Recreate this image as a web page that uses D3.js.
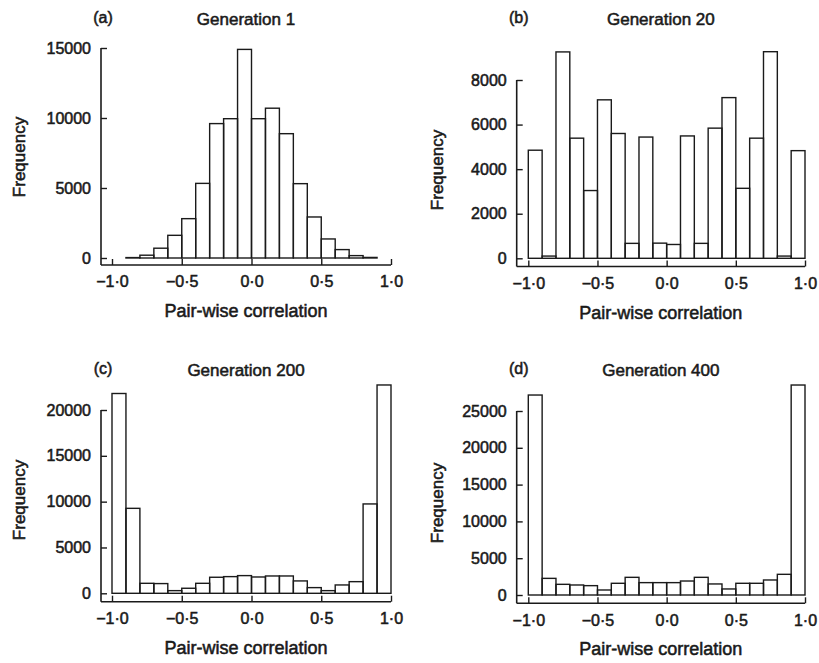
<!DOCTYPE html>
<html>
<head>
<meta charset="utf-8">
<script src="https://cdnjs.cloudflare.com/ajax/libs/d3/7.8.5/d3.min.js"></script>
<style>
  body { margin: 0; background: #fff; }
  svg text { font-family: "Liberation Sans", Arial, sans-serif; fill: #1a1a1a; stroke: #1a1a1a; stroke-width: 0.55px; }
</style>
</head>
<body>
<svg id="chart"></svg>
<script>
'use strict';

// bin edges (pair-wise correlation)
var edgesGen1 = [-0.9, -0.8, -0.7, -0.6, -0.5, -0.4, -0.3, -0.2, -0.1, 0.0, 0.1, 0.2, 0.3, 0.4, 0.5, 0.6, 0.7, 0.8, 0.9];
var edgesFull = [-1.0, -0.9, -0.8, -0.7, -0.6, -0.5, -0.4, -0.3, -0.2, -0.1, 0.0, 0.1, 0.2, 0.3, 0.4, 0.5, 0.6, 0.7, 0.8, 0.9, 1.0];

// frequencies
var countsGen1 = [30, 200, 700, 1620, 2810, 5330, 9600, 9950, 14900, 9950, 10700, 8880, 5310, 2930, 1360, 600, 170, 40];
var countsGen20 = [4850, 100, 9260, 5390, 3040, 7110, 5600, 670, 5440, 680, 620, 5490, 670, 5840, 7210, 3140, 5390, 9270, 100, 4830];
var countsGen200 = [21800, 9270, 1090, 1060, 290, 550, 1090, 1750, 1820, 1930, 1780, 1890, 1890, 1350, 620, 290, 910, 1270, 9750, 22730];
var countsGen400 = [27170, 2260, 1450, 1360, 1270, 680, 1590, 2400, 1680, 1680, 1680, 1900, 2400, 1500, 820, 1590, 1590, 2040, 2810, 28530];

// tick values and labels
var xTicks = [-1, -0.5, 0, 0.5, 1];
var xTickLabels = ['\u22121\u00b70', '\u22120\u00b75', '0\u00b70', '0\u00b75', '1\u00b70'];
var yTicksGen1 = [0, 5000, 10000, 15000];
var yTicksGen20 = [0, 2000, 4000, 6000, 8000];
var yTicksGen200 = [0, 5000, 10000, 15000, 20000];
var yTicksGen400 = [0, 5000, 10000, 15000, 20000, 25000];

var panelLetters = ['(a)', '(b)', '(c)', '(d)'];
var panelTitles = ['Generation 1', 'Generation 20', 'Generation 200', 'Generation 400'];

var svg = d3.select('#chart')
  .attr('width', 819)
  .attr('height', 663);

// layout of each panel (pixels)
var panels = [
  { edges: edgesGen1, counts: countsGen1, yTicks: yTicksGen1,
    axisX: 101, x0: 112, x1: 391, base: 258, top: 48, axisY: 265, freqX: 25, freqY: 157, titleY: 25 },
  { edges: edgesFull, counts: countsGen20, yTicks: yTicksGen20,
    axisX: 516.7, x0: 528.3, x1: 805, base: 258.3, top: 80, axisY: 266.5, freqX: 443, freqY: 170, titleY: 25 },
  { edges: edgesFull, counts: countsGen200, yTicks: yTicksGen200,
    axisX: 101, x0: 112, x1: 391, base: 593.3, top: 410, axisY: 601.7, freqX: 25, freqY: 500, titleY: 376 },
  { edges: edgesFull, counts: countsGen400, yTicks: yTicksGen400,
    axisX: 516.7, x0: 528.3, x1: 805, base: 595, top: 411, axisY: 603.3, freqX: 443, freqY: 503, titleY: 376 }
];

var ink = '#1a1a1a';

panels.forEach(function(p, i) {
  var g = svg.append('g');

  var xScale = d3.scaleLinear().domain([-1, 1]).range([p.x0, p.x1]);
  var yMax = p.yTicks[p.yTicks.length - 1];
  var yScale = d3.scaleLinear().domain([0, yMax]).range([p.base, p.top]);

  // bins as [lo, hi, count]
  var bins = p.counts.map(function(c, k) {
    return { lo: p.edges[k], hi: p.edges[k + 1], n: c };
  });

  g.selectAll('rect')
    .data(bins)
    .enter()
    .append('rect')
    .attr('x', d => xScale(d.lo))
    .attr('width', d => xScale(d.hi) - xScale(d.lo))
    .attr('y', d => yScale(d.n))
    .attr('height', d => yScale(0) - yScale(d.n))
    .attr('fill', 'none')
    .attr('stroke', ink)
    .attr('stroke-width', 1.4);

  // x axis (ticks point inward, line starts at the y axis)
  var xAxis = g.append('g')
    .attr('transform', 'translate(0,' + p.axisY + ')')
    .call(d3.axisBottom(xScale)
      .tickValues(xTicks)
      .tickFormat((d, k) => xTickLabels[k])
      .tickSizeInner(-6)
      .tickSizeOuter(0)
      .tickPadding(11));
  xAxis.select('.domain').remove();
  xAxis.append('line')
    .attr('x1', p.axisX).attr('x2', p.x1)
    .attr('stroke', ink).attr('stroke-width', 1.6);

  // y axis
  var yAxis = g.append('g')
    .attr('transform', 'translate(' + p.axisX + ',0)')
    .call(d3.axisLeft(yScale)
      .tickValues(p.yTicks)
      .tickFormat(d3.format('d'))
      .tickSizeInner(-6)
      .tickSizeOuter(0)
      .tickPadding(10));
  yAxis.select('.domain').remove();
  yAxis.append('line')
    .attr('y1', p.top).attr('y2', p.axisY)
    .attr('stroke', ink).attr('stroke-width', 1.6);

  svg.selectAll('.tick line').attr('stroke', ink).attr('stroke-width', 1.4);
  g.selectAll('.tick text')
    .attr('fill', ink)
    .style('font-size', '16px')
    .style('font-family', '"Liberation Sans", Arial, sans-serif');

  // titles
  var cx = (p.axisX + p.x1) / 2;
  g.append('text')
    .attr('x', cx).attr('y', p.titleY)
    .attr('text-anchor', 'middle')
    .style('font-size', '17px')
    .text(panelTitles[i]);
  g.append('text')
    .attr('x', p.axisX + 2).attr('y', p.titleY - 2)
    .attr('text-anchor', 'middle')
    .style('font-size', '16px')
    .text(panelLetters[i]);

  g.append('text')
    .attr('x', cx).attr('y', p.axisY + 52)
    .attr('text-anchor', 'middle')
    .style('font-size', '18px')
    .text('Pair-wise correlation');

  g.append('text')
    .attr('transform', 'translate(' + p.freqX + ',' + p.freqY + ') rotate(-90)')
    .attr('text-anchor', 'middle')
    .style('font-size', '17px')
    .text('Frequency');
});
</script>
</body>
</html>
